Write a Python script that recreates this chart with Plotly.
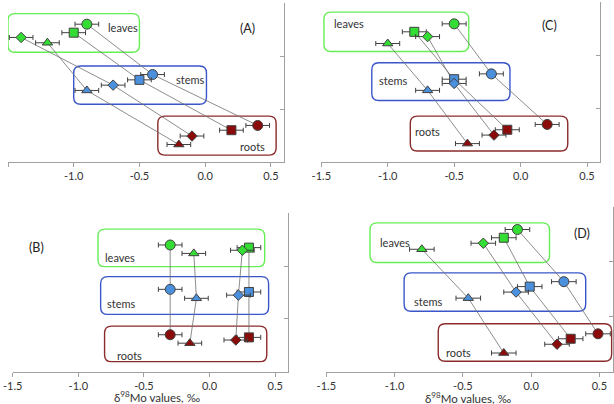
import plotly.graph_objects as go

# ---------------- data (order: leaves, stems, roots) ----------------
organs = ["leaves", "stems", "roots"]
panels = ["A", "B", "C", "D"]

# x values (delta98Mo, per mil) per panel and marker type
A_circle = [-0.9, -0.4, 0.4]
A_square = [-1.0, -0.5, 0.2]
A_diamond = [-1.4, -0.7, -0.1]
A_triangle = [-1.2, -0.9, -0.2]

B_circle = [-0.3, -0.3, -0.3]
B_square = [0.3, 0.3, 0.3]
B_diamond = [0.25, 0.22, 0.2]
B_triangle = [-0.12, -0.1, -0.15]

C_circle = [-0.5, -0.22, 0.2]
C_square = [-0.8, -0.5, -0.1]
C_diamond = [-0.7, -0.5, -0.2]
C_triangle = [-1.0, -0.7, -0.4]

D_circle = [-0.1, 0.24, 0.49]
D_square = [-0.2, -0.01, 0.29]
D_diamond = [-0.35, -0.11, 0.19]
D_triangle = [-0.8, -0.46, -0.2]

# vertical positions (category offsets) per marker type
A_ypos = {"circle": [2.60, 1.65, 0.69], "square": [2.44, 1.55, 0.60],
          "diamond": [2.35, 1.45, 0.49], "triangle": [2.25, 1.35, 0.33]}
B_ypos = {"circle": [2.40, 1.56, 0.70], "square": [2.35, 1.51, 0.65],
          "diamond": [2.30, 1.45, 0.60], "triangle": [2.24, 1.39, 0.54]}
C_ypos = {"circle": [2.59, 1.65, 0.70], "square": [2.44, 1.55, 0.60],
          "diamond": [2.35, 1.47, 0.50], "triangle": [2.22, 1.34, 0.34]}
D_ypos = {"circle": [2.59, 1.64, 0.69], "square": [2.44, 1.55, 0.60],
          "diamond": [2.34, 1.45, 0.50], "triangle": [2.23, 1.34, 0.34]}

err = 0.09  # uncertainty (per mil)

x_tick_vals = [-1.5, -1.0, -0.5, 0.0, 0.5]
x_tick_text = ["-1.5", "-1.0", "-0.5", "0.0", "0.5"]

# ---------------- layout configuration ----------------
data_x = {
    "A": {"circle": A_circle, "square": A_square, "diamond": A_diamond, "triangle": A_triangle},
    "B": {"circle": B_circle, "square": B_square, "diamond": B_diamond, "triangle": B_triangle},
    "C": {"circle": C_circle, "square": C_square, "diamond": C_diamond, "triangle": C_triangle},
    "D": {"circle": D_circle, "square": D_square, "diamond": D_diamond, "triangle": D_triangle},
}
data_y = {"A": A_ypos, "B": B_ypos, "C": C_ypos, "D": D_ypos}

W, H = 614, 404
# pixel geometry of each panel: (x_left(-1.5), x_right(0.6), y_top, y_bottom)
geom = {
    "A": (8, 284, 3, 162),
    "C": (321.3, 600.3, 2, 161.7),
    "B": (12.7, 288.3, 213.3, 371.7),
    "D": (326.3, 613.0, 207, 371.7),
}
axis_ids = {"A": ("x", "y"), "C": ("x2", "y2"), "B": ("x3", "y3"), "D": ("x4", "y4")}

boxes = {
    "A": [(-1.5, -0.5, 2.07, 2.80), (-1.0, 0.01, 1.09, 1.81), (-0.36, 0.54, 0.13, 0.865)],
    "C": [(-1.48, -0.39, 2.07, 2.81), (-1.12, -0.08, 1.15, 1.86), (-0.83, 0.355, 0.20, 0.857)],
    "B": [(-0.85, 0.42, 1.99, 2.70), (-0.83, 0.45, 1.085, 1.80), (-0.80, 0.436, 0.19, 0.864)],
    "D": [(-1.18, 0.135, 1.99, 2.71), (-0.93, 0.40, 1.10, 1.80), (-0.68, 0.59, 0.19, 0.873)],
}
labels = {
    "A": [(-0.625, 2.53), (-0.11, 1.56), (0.36, 0.30)],
    "C": [(-1.29, 2.59), (-0.96, 1.52), (-0.70, 0.56)],
    "B": [(-0.68, 2.16), (-0.67, 1.29), (-0.61, 0.30)],
    "D": [(-1.0, 2.35), (-0.75, 1.28), (-0.53, 0.35)],
}
panel_label_pos = {"A": (0.32, 2.51), "C": (0.22, 2.55), "B": (-1.32, 2.35), "D": (0.37, 2.52)}

organ_fill = ["#33dd33", "#4a90dc", "#8b0a0a"]
box_color = ["#66ee55", "#3a56c8", "#8b2a2a"]
symbols = {"circle": "circle", "square": "square", "diamond": "diamond", "triangle": "triangle-up"}
sizes = {"circle": 10, "square": 9, "diamond": 8, "triangle": 9}

FONT = "Lato, 'Open Sans', sans-serif"

fig = go.Figure()
shapes = []
annotations = []

for p in panels:
    xa, ya = axis_ids[p]
    xl, xr, yt, yb = geom[p]
    # connecting lines
    for shp in ["circle", "square", "diamond", "triangle"]:
        fig.add_trace(go.Scatter(
            x=data_x[p][shp], y=data_y[p][shp], mode="lines",
            line=dict(color="#707070", width=0.8),
            xaxis=xa, yaxis=ya, hoverinfo="skip", showlegend=False))
    # markers with error bars
    for shp in ["circle", "square", "diamond", "triangle"]:
        for i, org in enumerate(organs):
            fig.add_trace(go.Scatter(
                x=[data_x[p][shp][i]], y=[data_y[p][shp][i]], mode="markers",
                marker=dict(symbol=symbols[shp], size=sizes[shp], color=organ_fill[i],
                            line=dict(color="#404040", width=1)),
                error_x=dict(type="constant", value=err, color="#404040", thickness=1, width=2.5),
                xaxis=xa, yaxis=ya, showlegend=False, cliponaxis=False,
                name=f"{org} {shp}"))
    # rounded boxes
    pxu = (xr - xl) / 2.1
    pyu = (yb - yt) / 3.0
    rx, ry = 7 / pxu, 7 / pyu
    for i, (x0, x1, y0, y1) in enumerate(boxes[p]):
        path = (f"M {x0+rx},{y0} L {x1-rx},{y0} Q {x1},{y0} {x1},{y0+ry} "
                f"L {x1},{y1-ry} Q {x1},{y1} {x1-rx},{y1} L {x0+rx},{y1} "
                f"Q {x0},{y1} {x0},{y1-ry} L {x0},{y0+ry} Q {x0},{y0} {x0+rx},{y0} Z")
        shapes.append(dict(type="path", path=path, xref=xa, yref=ya,
                           line=dict(color=box_color[i], width=1.4), layer="below"))
    # labels
    for i, (lx, ly) in enumerate(labels[p]):
        annotations.append(dict(x=lx, y=ly, xref=xa, yref=ya, text=organs[i], showarrow=False,
                                xanchor="center", yanchor="middle",
                                font=dict(family=FONT, size=11, color="#333333")))
    plx, ply = panel_label_pos[p]
    annotations.append(dict(x=plx, y=ply, xref=xa, yref=ya, text=f"({p})", showarrow=False,
                            xanchor="center", yanchor="middle",
                            font=dict(family=FONT, size=12.5, color="#222222")))

layout_axes = {}
for p in panels:
    xa, ya = axis_ids[p]
    xl, xr, yt, yb = geom[p]
    xkey = "xaxis" if xa == "x" else "xaxis" + xa[1:]
    ykey = "yaxis" if ya == "y" else "yaxis" + ya[1:]
    layout_axes[xkey] = dict(
        domain=[xl / W, xr / W], range=[-1.5, 0.6], anchor=ya, automargin=False,
        showgrid=False, zeroline=False, showline=True, linecolor="#a0a0a0", linewidth=1,
        ticks="outside", ticklen=4, tickcolor="#a0a0a0",
        tickvals=x_tick_vals, ticktext=x_tick_text,
        tickfont=dict(family=FONT, size=11, color="#333333"), fixedrange=True)
    layout_axes[ykey] = dict(
        domain=[1 - yb / H, 1 - yt / H], range=[0, 3], anchor=xa, side="right",
        automargin=False,
        showgrid=False, zeroline=False, showline=True, linecolor="#a0a0a0", linewidth=1,
        ticks="inside", ticklen=4, tickcolor="#a0a0a0", tickvals=[1, 2, 3],
        showticklabels=False, fixedrange=True)

# x-axis titles for bottom panels
annotations.append(dict(x=157 / W, y=1 - 396.5 / H, xref="paper", yref="paper",
                        xanchor="center", yanchor="middle",
                        text="δ<sup>98</sup>Mo values, ‰", showarrow=False,
                        font=dict(family=FONT, size=11.5, color="#333333")))
annotations.append(dict(x=467.7 / W, y=1 - 397.5 / H, xref="paper", yref="paper",
                        xanchor="center", yanchor="middle",
                        text="δ<sup>98</sup>Mo values, ‰", showarrow=False,
                        font=dict(family=FONT, size=11.5, color="#333333")))

fig.update_layout(
    template="none",
    width=W, height=H, margin=dict(l=0, r=0, t=0, b=0, pad=0),
    paper_bgcolor="white", plot_bgcolor="white",
    shapes=shapes, annotations=annotations, showlegend=False,
    **layout_axes)

fig.write_html("out.html", config={"displayModeBar": False},
               post_script="document.body.style.margin='0';document.body.style.padding='0';"
                           "document.body.style.overflow='hidden';")
